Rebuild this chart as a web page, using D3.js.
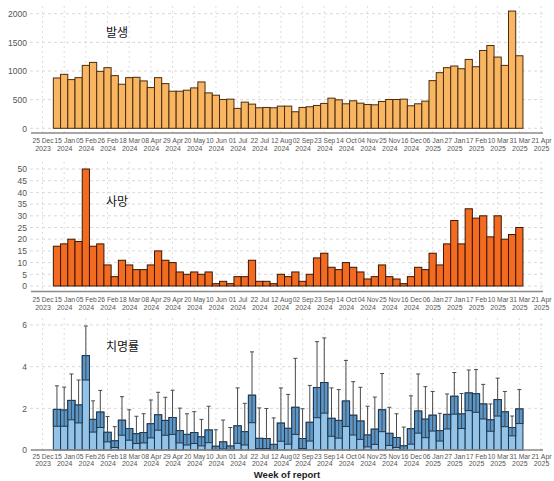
<!DOCTYPE html>
<html>
<head>
<meta charset="utf-8">
<script src="https://cdn.jsdelivr.net/npm/d3@7"></script>
<style>
  body { margin: 0; background: #fff; }
  svg { display: block; }
</style>
</head>
<body>
<svg id="chart" width="554" height="481"></svg>
<script>
// Weekly reports: first week and the three series
const firstWeek = "2024-01-08";

const cases = [878, 942, 850, 884, 1098, 1150, 994, 1058, 919, 769,
  884, 890, 827, 711, 884, 780, 647, 647, 665, 705,
  809, 618, 578, 503, 509, 347, 457, 422, 358, 364,
  358, 387, 387, 289, 364, 376, 399, 434, 526, 497,
  428, 480, 439, 416, 410, 468, 503, 503, 509, 393,
  428, 474, 832, 971, 1058, 1087, 1040, 1202, 1075, 1358,
  1445, 1243, 1098, 2046, 1266];

const deaths = [17, 18, 20, 19, 50, 17, 18, 9, 4, 11,
  9, 7, 7, 9, 15, 11, 10, 6, 5, 6,
  5, 6, 1, 2, 1, 4, 4, 11, 2, 2,
  1, 5, 4, 6, 2, 5, 12, 14, 8, 7,
  10, 8, 6, 3, 4, 9, 4, 3, 1, 4,
  8, 7, 14, 9, 18, 28, 18, 33, 29, 30,
  21, 30, 20, 22, 25];

const cfr = [1.95, 1.92, 2.38, 2.16, 4.53, 1.47, 1.82, 0.85, 0.44, 1.43,
  1.03, 0.78, 0.84, 1.26, 1.69, 1.42, 1.56, 0.93, 0.75, 0.84,
  0.63, 0.96, 0.18, 0.39, 0.19, 1.16, 0.88, 2.63, 0.56, 0.55,
  0.27, 1.29, 1.04, 2.05, 0.55, 1.33, 3.00, 3.24, 1.52, 1.42,
  2.35, 1.67, 1.39, 0.72, 1.00, 1.93, 0.80, 0.60, 0.20, 1.02,
  1.87, 1.48, 1.67, 0.93, 1.71, 2.58, 1.73, 2.74, 2.70, 2.21,
  1.45, 2.42, 1.83, 1.08, 1.97];

const cfrLow = [1.14, 1.14, 1.45, 1.30, 3.36, 0.86, 1.08, 0.39, 0.12, 0.71,
  0.47, 0.31, 0.34, 0.58, 0.95, 0.71, 0.75, 0.34, 0.24, 0.31,
  0.20, 0.35, 0.00, 0.05, 0.00, 0.32, 0.24, 1.31, 0.07, 0.07,
  0.01, 0.42, 0.28, 0.75, 0.07, 0.43, 1.55, 1.77, 0.66, 0.57,
  1.13, 0.72, 0.51, 0.15, 0.27, 0.88, 0.22, 0.12, 0.01, 0.28,
  0.81, 0.59, 0.91, 0.43, 1.01, 1.72, 1.03, 1.89, 1.81, 1.49,
  0.90, 1.63, 1.12, 0.68, 1.27];

const cfrHigh = [3.08, 3.02, 3.65, 3.36, 5.95, 2.36, 2.86, 1.61, 1.12, 2.56,
  1.93, 1.62, 1.74, 2.40, 2.77, 2.53, 2.87, 2.01, 1.74, 1.84,
  1.47, 2.10, 0.97, 1.44, 1.08, 2.98, 2.24, 4.71, 2.02, 1.99,
  1.54, 2.98, 2.67, 4.40, 1.98, 3.10, 5.20, 5.38, 2.98, 2.90,
  4.30, 3.28, 3.01, 2.10, 2.54, 3.67, 2.05, 1.74, 1.10, 2.60,
  3.65, 3.04, 2.81, 1.76, 2.69, 3.72, 2.71, 3.84, 3.86, 3.15,
  2.21, 3.45, 2.81, 1.63, 2.90];

const tickDates = ["2023-12-25", "2024-01-15", "2024-02-05", "2024-02-26", "2024-03-18",
  "2024-04-08", "2024-04-29", "2024-05-20", "2024-06-10", "2024-07-01", "2024-07-22",
  "2024-08-12", "2024-09-02", "2024-09-23", "2024-10-14", "2024-11-04", "2024-11-25",
  "2024-12-16", "2025-01-06", "2025-01-27", "2025-02-17", "2025-03-10", "2025-03-31",
  "2025-04-21"];

const caseTicks = [0, 500, 1000, 1500, 2000];
const deathTicks = [0, 5, 10, 15, 20, 25, 30, 35, 40, 45, 50];
const cfrTicks = [0, 2, 4, 6];

const panelTitles = ["발생", "사망", "치명률"];
const xTitle = "Week of report";

// ---- drawing ----
const svg = d3.select("#chart");
const parse = d3.utcParse("%Y-%m-%d");
const start = parse(firstWeek);
const weeks = d3.utcMonday.range(start, d3.utcDay.offset(start, 7 * cases.length));
const ticks = tickDates.map(parse);

const x = d3.scaleUtc()
  .domain([ticks[0], ticks[ticks.length - 1]])
  .range([42.5, 541]);
const bw = x(d3.utcDay.offset(weeks[0], 7)) - x(weeks[0]);
const tickGap = x(ticks[1]) - x(ticks[0]);

const fmtDay = d3.utcFormat("%d %b");
const fmtYear = d3.utcFormat("%Y");
const sans = "'Liberation Sans', Arial, sans-serif";
const kfont = "'Noto Sans CJK KR', 'Noto Sans', sans-serif";

const panels = [
  { values: cases, ticks: caseTicks, max: 2000, top: 13.7, base: 128.3, axisY: 133,
    gridTop: 6, fill: "#F8B562", stroke: "#4a2c0e", title: panelTitles[0], titleY: 37, labY: 143 },
  { values: deaths, ticks: deathTicks, max: 50, top: 169, base: 286, axisY: 291.5,
    gridTop: 162, fill: "#F26B21", stroke: "#3a1706", title: panelTitles[1], titleY: 206, labY: 302 },
  { values: cfr, ticks: cfrTicks, max: 6, top: 325, base: 450, axisY: 450,
    gridTop: 318, fill: "#93C3E6", stroke: "#1d3650", title: panelTitles[2], titleY: 351, labY: 458.5,
    low: cfrLow, high: cfrHigh }
];

panels.forEach(p => {
  const g = svg.append("g");
  const y = d3.scaleLinear().domain([0, p.max]).range([p.base, p.top]);

  // grid
  g.append("g").selectAll("line").data(p.ticks).join("line")
    .attr("x1", 30).attr("x2", 545)
    .attr("y1", d => y(d)).attr("y2", d => y(d))
    .attr("stroke", "#cfcfcf").attr("stroke-width", 0.8).attr("stroke-dasharray", "3,3");
  g.append("g").selectAll("line").data(ticks).join("line")
    .attr("x1", d => x(d)).attr("x2", d => x(d))
    .attr("y1", p.gridTop).attr("y2", p.axisY)
    .attr("stroke", "#d6d6d6").attr("stroke-width", 0.8).attr("stroke-dasharray", "2,3");

  // bars
  g.append("g").selectAll("rect").data(p.values).join("rect")
    .attr("x", (d, i) => x(weeks[i]) - bw / 2)
    .attr("y", d => y(d))
    .attr("width", bw)
    .attr("height", d => p.base - y(d))
    .attr("fill", p.fill)
    .attr("stroke", p.stroke)
    .attr("stroke-width", 1);

  // confidence intervals for the fatality rate
  if (p.low) {
    g.append("g").selectAll("rect").data(p.values).join("rect")
      .attr("x", (d, i) => x(weeks[i]) - bw / 2)
      .attr("y", d => y(d))
      .attr("width", bw)
      .attr("height", (d, i) => y(p.low[i]) - y(d))
      .attr("fill", "#5B97C9")
      .attr("stroke", p.stroke)
      .attr("stroke-width", 1);
    const eb = g.append("g").attr("stroke", "#4a4a4a").attr("stroke-width", 1);
    eb.append("g").selectAll("line").data(p.values).join("line")
      .attr("x1", (d, i) => x(weeks[i])).attr("x2", (d, i) => x(weeks[i]))
      .attr("y1", (d, i) => y(p.low[i])).attr("y2", (d, i) => y(p.high[i]));
    eb.append("g").selectAll("line").data(p.values).join("line")
      .attr("x1", (d, i) => x(weeks[i]) - 2).attr("x2", (d, i) => x(weeks[i]) + 2)
      .attr("y1", (d, i) => y(p.high[i])).attr("y2", (d, i) => y(p.high[i]));
  }

  // axis line
  g.append("line").attr("x1", 31).attr("x2", 543)
    .attr("y1", p.axisY).attr("y2", p.axisY)
    .attr("stroke", "#8a8a8a").attr("stroke-width", 1.3);

  // y axis labels
  const ya = g.append("g").attr("transform", "translate(27,0)")
    .call(d3.axisLeft(y).tickValues(p.ticks).tickFormat(d3.format("d")).tickSize(0).tickPadding(0));
  ya.select(".domain").remove();
  ya.selectAll("text").attr("font-family", sans).attr("font-size", 8.5).attr("fill", "#555");

  // x axis labels (day-month over year), packed tightly between ticks
  const xa = g.append("g").attr("transform", `translate(0,${p.labY})`)
    .call(d3.axisBottom(x).tickValues(ticks).tickSize(0).tickPadding(0));
  xa.select(".domain").remove();
  xa.selectAll(".tick text").each(function(d) {
    const t = d3.select(this).text(null).attr("y", 0).attr("dy", null)
      .attr("font-family", sans).attr("font-size", 7).attr("fill", "#555");
    const day = t.append("tspan").attr("x", 0).attr("y", 0).text(fmtDay(d));
    const w = day.node().getComputedTextLength();
    if (w > tickGap - 0.8) {
      day.attr("textLength", tickGap - 0.8).attr("lengthAdjust", "spacingAndGlyphs");
    }
    t.append("tspan").attr("x", 0).attr("y", 7.8).text(fmtYear(d));
  });

  // panel title
  g.append("text").attr("x", 106).attr("y", p.titleY)
    .attr("font-family", kfont).attr("font-size", 12).attr("fill", "#111")
    .text(p.title);
});

svg.append("text").attr("x", 287).attr("y", 478)
  .attr("text-anchor", "middle")
  .attr("font-family", sans).attr("font-size", 9.5).attr("font-weight", "bold").attr("fill", "#222")
  .text(xTitle);
</script>
</body>
</html>
